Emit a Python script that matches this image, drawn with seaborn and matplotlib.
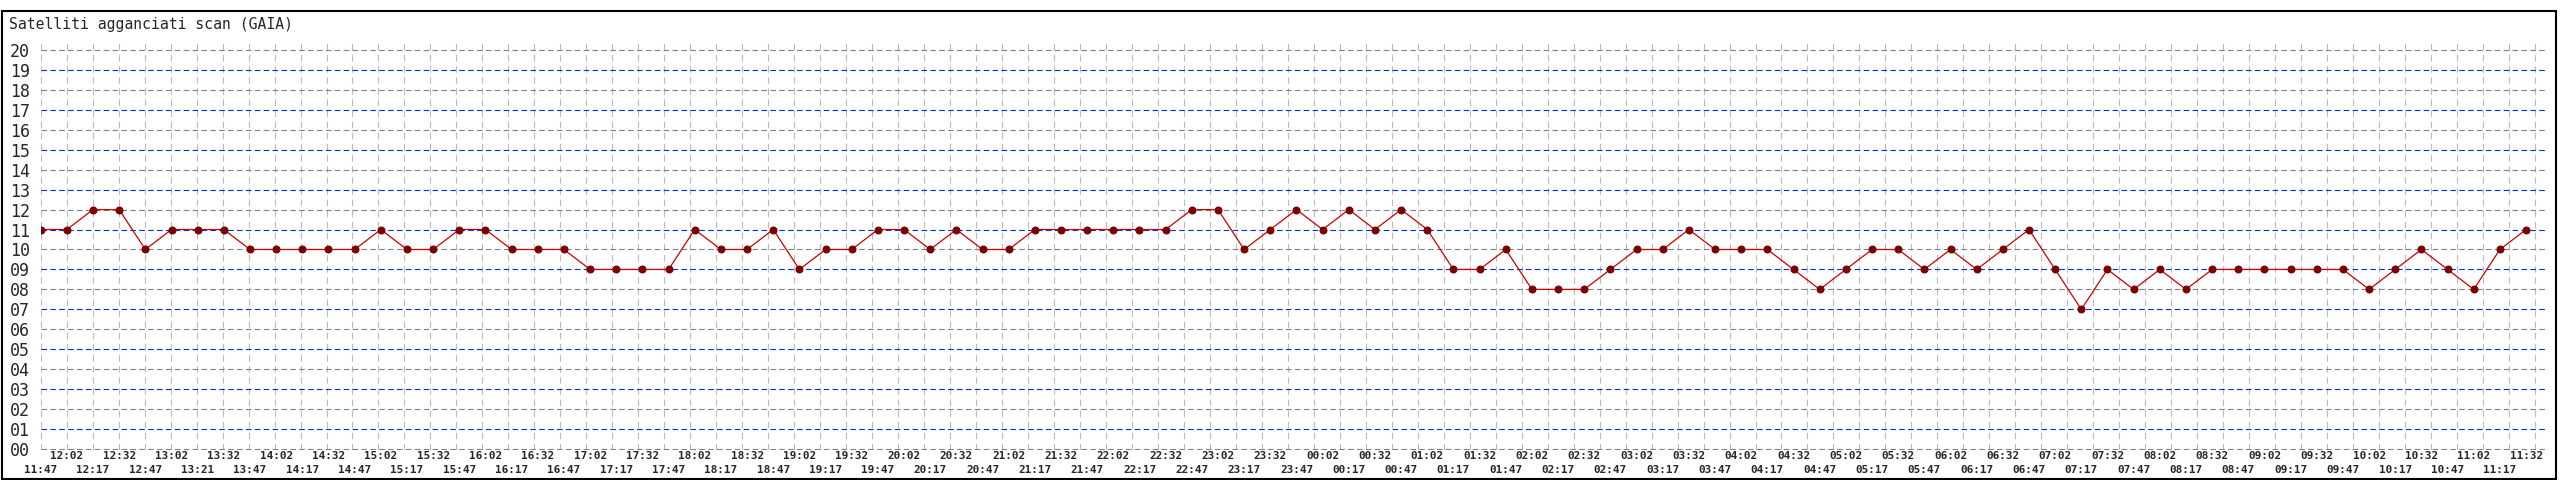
import numpy as np
import pandas as pd
import seaborn as sns
import matplotlib.pyplot as plt
from matplotlib.patches import Rectangle

# Orari delle scansioni (uno ogni 15 minuti circa)
orari = ["11:47", "12:02", "12:17", "12:32", "12:47", "13:02", "13:21", "13:32",
         "13:47", "14:02", "14:17", "14:32", "14:47", "15:02", "15:17", "15:32",
         "15:47", "16:02", "16:17", "16:32", "16:47", "17:02", "17:17", "17:32",
         "17:47", "18:02", "18:17", "18:32", "18:47", "19:02", "19:17", "19:32",
         "19:47", "20:02", "20:17", "20:32", "20:47", "21:02", "21:17", "21:32",
         "21:47", "22:02", "22:17", "22:32", "22:47", "23:02", "23:17", "23:32",
         "23:47", "00:02", "00:17", "00:32", "00:47", "01:02", "01:17", "01:32",
         "01:47", "02:02", "02:17", "02:32", "02:47", "03:02", "03:17", "03:32",
         "03:47", "04:02", "04:17", "04:32", "04:47", "05:02", "05:17", "05:32",
         "05:47", "06:02", "06:17", "06:32", "06:47", "07:02", "07:17", "07:32",
         "07:47", "08:02", "08:17", "08:32", "08:47", "09:02", "09:17", "09:32",
         "09:47", "10:02", "10:17", "10:32", "10:47", "11:02", "11:17", "11:32"]

# Numero di satelliti agganciati
satelliti = [11, 11, 12, 12, 10, 11, 11, 11, 10, 10, 10, 10, 10, 11, 10, 10,
             11, 11, 10, 10, 10, 9, 9, 9, 9, 11, 10, 10, 11, 9, 10, 10,
             11, 11, 10, 11, 10, 10, 11, 11, 11, 11, 11, 11, 12, 12, 10, 11,
             12, 11, 12, 11, 12, 11, 9, 9, 10, 8, 8, 8, 9, 10, 10, 11,
             10, 10, 10, 9, 8, 9, 10, 10, 9, 10, 9, 10, 11, 9, 7, 9,
             8, 9, 8, 9, 9, 9, 9, 9, 9, 8, 9, 10, 9, 8, 10, 11]

livelli = list(range(0, 21))

df = pd.DataFrame({"pos": np.arange(len(orari)), "satelliti": satelliti})

sns.set_style("white")
plt.rcParams['font.family'] = ['DejaVu Sans Mono', 'DejaVu Sans']

W, H = 2560, 480
fig = plt.figure(figsize=(W / 100, H / 100), dpi=100)
ax = fig.add_axes([40.7 / W, 30 / H, (2547 - 40.7) / W, 410 / H])

ax.set_xlim(0, 95.8)
ax.set_ylim(-0.05, 20.5)

# griglia verticale (passo fisso, leggermente diverso dai punti)
passo = 26 / 26.18
for k in range(97):
    xv = k * passo
    if xv <= 95.8:
        ax.axvline(xv, color="#bbbbbb", lw=0.8, dashes=(6, 4), zorder=1)

# griglia orizzontale: pari grigio, dispari blu
for v in livelli:
    col = "#808080" if v % 2 == 0 else "#0033cc"
    ax.axhline(v, color=col, lw=0.8, dashes=(5, 3), zorder=2)

sns.lineplot(data=df, x="pos", y="satelliti", ax=ax, color="#cc0000", lw=0.9,
             marker="o", markersize=5, markerfacecolor="#7a0000",
             markeredgecolor="#7a0000", zorder=3)

for s in ax.spines.values():
    s.set_visible(False)

ax.set_xlabel("")
ax.set_ylabel("")
ax.set_yticks(livelli)
ax.set_yticklabels([f"{v:02d}" for v in livelli])

# etichette su due righe: dispari sopra (major), pari sotto (minor)
ax.set_xticks(df["pos"][1::2])
ax.set_xticklabels(orari[1::2])
ax.set_xticks(df["pos"][0::2], minor=True)
ax.set_xticklabels(orari[0::2], minor=True)

titolo = fig.text(9 / W, 1 - 24 / H, "Satelliti agganciati scan (GAIA)",
                  va="center", ha="left")


# adatta la dimensione del font alla larghezza misurata sul riferimento
def adatta(testo, larghezza, base=10.0):
    testo.set_fontsize(base)
    r = fig.canvas.get_renderer()
    w = testo.get_window_extent(r).width
    return base * larghezza / w


titolo.set_fontsize(adatta(titolo, 286))
fs_y = adatta(ax.get_yticklabels()[-1], 20)
for lab in ax.get_yticklabels():
    lab.set_fontsize(fs_y)
fs_x = adatta(ax.get_xticklabels()[0], 33)
for lab in ax.get_xticklabels() + ax.get_xticklabels(minor=True):
    lab.set_fontsize(fs_x)
    lab.set_fontweight("bold")

ax.tick_params(axis="x", which="major", length=0, pad=1)
ax.tick_params(axis="x", which="minor", length=0, pad=11)
ax.tick_params(axis="y", length=0, pad=8)

# cornice esterna
fig.patches.append(Rectangle((2 / W, 1 / H), 2554 / W, 468 / H, transform=fig.transFigure,
                             fill=False, edgecolor="black", lw=1.5))

fig.savefig("out.png", dpi=100)
